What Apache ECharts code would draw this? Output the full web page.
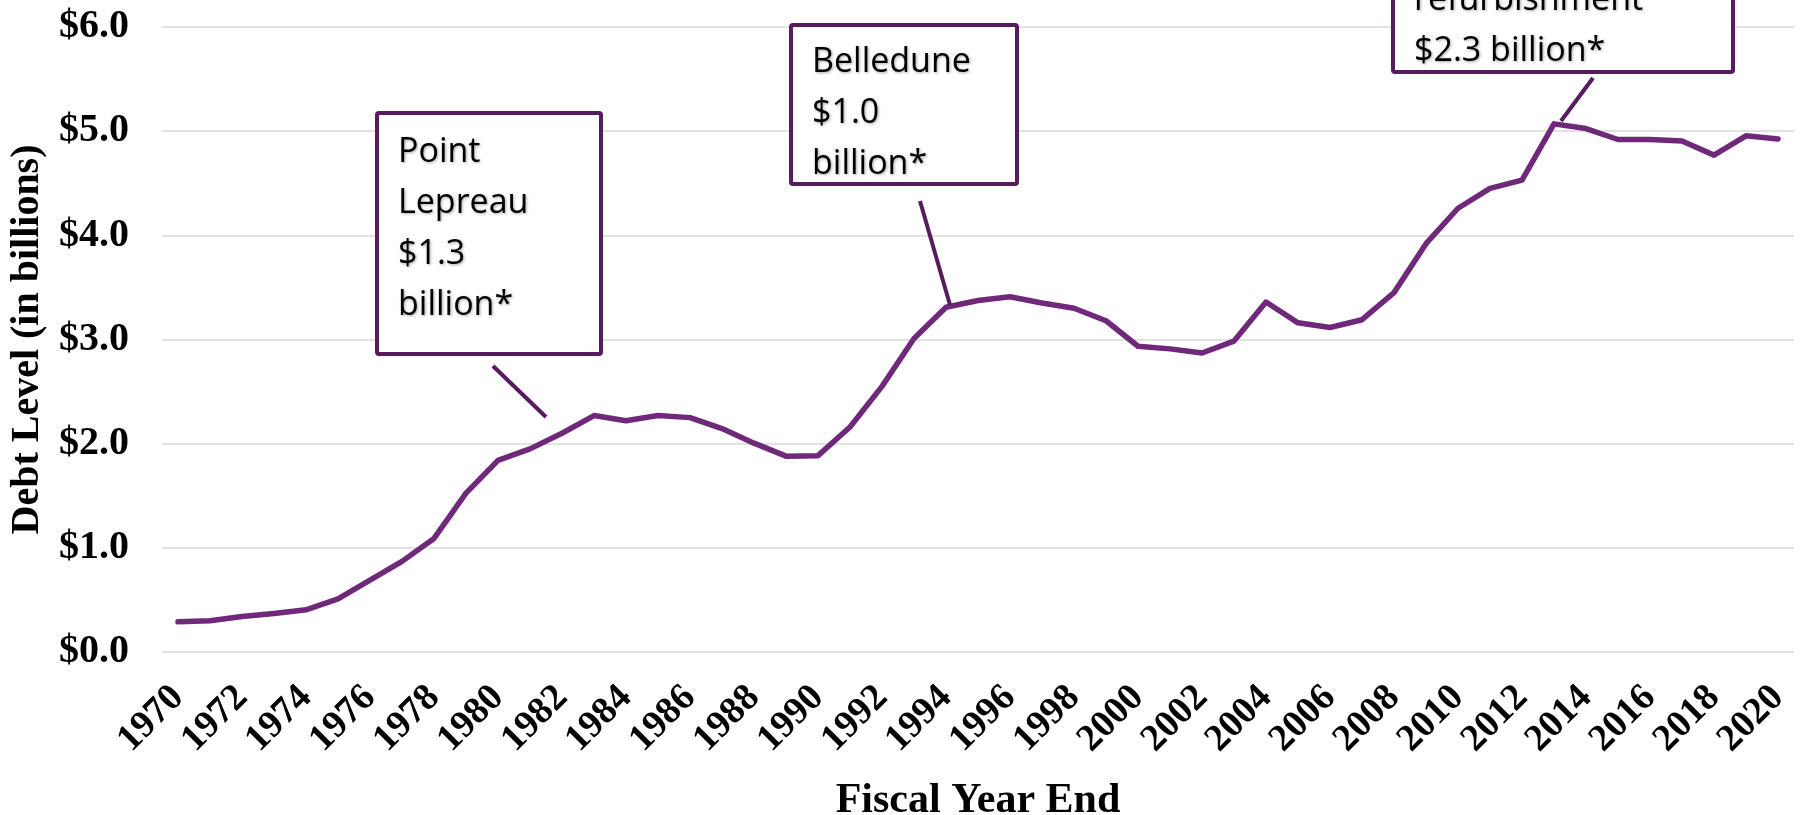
<!DOCTYPE html>
<html>
<head>
<meta charset="utf-8">
<title>Debt Level</title>
<script src="https://cdn.jsdelivr.net/npm/echarts@6/dist/echarts.min.js"></script>
<style>
  html, body { margin: 0; padding: 0; background: #fff; }
  #chart { width: 1805px; height: 815px; }
</style>
</head>
<body>
<div id="chart"></div>
<script>
  // fiscal years and debt (billions of $)
  var years = [];
  for (var y = 1970; y <= 2020; y++) years.push(String(y));

  var debt = [
    0.29, 0.30, 0.34, 0.37, 0.405, 0.51, 0.69, 0.87, 1.09, 1.525,
    1.84, 1.95, 2.10, 2.27, 2.22, 2.27, 2.25, 2.145, 2.005, 1.88,
    1.885, 2.16, 2.55, 3.01, 3.31, 3.375, 3.41, 3.35, 3.30, 3.18,
    2.935, 2.91, 2.87, 2.985, 3.36, 3.16, 3.115, 3.19, 3.45, 3.92,
    4.26, 4.45, 4.53, 5.07, 5.025, 4.92, 4.92, 4.905, 4.77, 4.955,
    4.925
  ];

  var yTicks = [0, 1, 2, 3, 4, 5, 6];

  var lineColor = '#70287b';
  var boxColor = '#561c5e';
  var serif = '"Liberation Serif", "Times New Roman", serif';
  var sans = '"Open Sans", "Noto Sans", sans-serif';

  function box(left, top, w, h, lines, textTop) {
    return [
      {
        type: 'rect',
        shape: { x: left, y: top, width: w, height: h, r: 2 },
        style: { fill: '#fff', stroke: boxColor, lineWidth: 4 },
        z: 10
      },
      {
        type: 'text',
        x: left + 21,
        y: textTop,
        style: {
          text: lines.join('\n'),
          font: '34px ' + sans,
          lineHeight: 51,
          fill: '#000',
          textShadowColor: 'rgba(0,0,0,0.35)',
          textShadowBlur: 3,
          textShadowOffsetX: 1,
          textShadowOffsetY: 1
        },
        z: 11
      }
    ];
  }

  function leader(x1, y1, x2, y2) {
    return {
      type: 'line',
      shape: { x1: x1, y1: y1, x2: x2, y2: y2 },
      style: { stroke: boxColor, lineWidth: 4 },
      z: 12
    };
  }

  var graphics = []
    .concat(box(377, 113, 224, 241, ['Point', 'Lepreau', '$1.3', 'billion*'], 127))
    .concat(box(791, 25, 226, 159, ['Belledune', '$1.0', 'billion*'], 37))
    .concat(box(1393, -80, 340, 152, ['refurbishment', '$2.3 billion*'], -25))
    .concat([
      leader(493, 366, 546, 417),
      leader(920, 201, 950, 305),
      leader(1593, 78, 1561, 121)
    ]);

  var chart = echarts.init(document.getElementById('chart'));
  chart.setOption({
    animation: false,
    backgroundColor: '#fff',
    grid: { left: 162, right: 11, top: 27, bottom: 163, containLabel: false, outerBoundsMode: 'none' },
    xAxis: {
      type: 'category',
      data: years,
      boundaryGap: true,
      name: 'Fiscal Year End',
      nameLocation: 'middle',
      nameGap: 128,
      nameTextStyle: { fontFamily: serif, fontWeight: 'bold', fontSize: 42, color: '#000' },
      axisLine: { show: false },
      axisTick: { show: false },
      axisLabel: {
        interval: 1,
        rotate: 45,
        margin: 40,
        fontFamily: serif,
        fontWeight: 'bold',
        fontSize: 38,
        color: '#000'
      }
    },
    yAxis: {
      type: 'value',
      min: yTicks[0],
      max: yTicks[yTicks.length - 1],
      interval: 1,
      name: 'Debt Level (in billions)',
      nameLocation: 'middle',
      nameGap: 114,
      nameTextStyle: { fontFamily: serif, fontWeight: 'bold', fontSize: 40, color: '#000' },
      axisLine: { show: false },
      axisTick: { show: false },
      splitLine: { lineStyle: { color: '#d9d9d9', width: 1.5 } },
      axisLabel: {
        margin: 33,
        fontFamily: serif,
        fontWeight: 'bold',
        fontSize: 40,
        color: '#000',
        formatter: function (v) { return '$' + v.toFixed(1); }
      }
    },
    series: [{
      type: 'line',
      data: debt,
      symbol: 'none',
      lineStyle: { color: lineColor, width: 5.5, cap: 'round', join: 'round' }
    }],
    graphic: graphics
  });
</script>
</body>
</html>
